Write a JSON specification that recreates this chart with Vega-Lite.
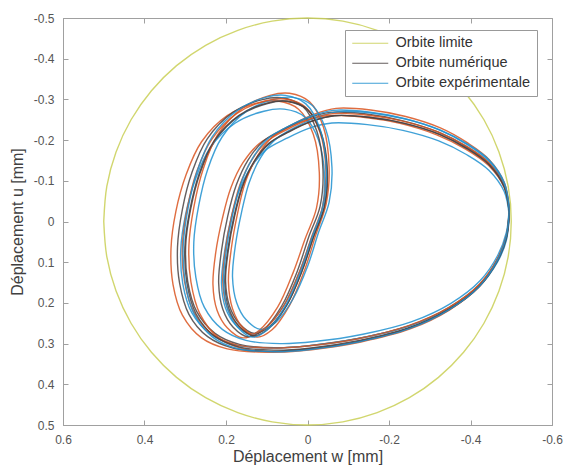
{
"$schema": "https://vega.github.io/schema/vega-lite/v6.json",
"width": 489, "height": 407,
"autosize": {"type": "none"},
"padding": {"left": 63, "top": 18, "right": 12, "bottom": 43},
"background": "white",
"config": {"font": "Liberation Sans", "view": {"stroke": "#a0a0a0", "strokeWidth": 1}},
"resolve": {"axis": {"x": "independent", "y": "independent"}},
"data": {"values": [
{"s":"L","c":0,"o":1,"x":0.5,"y":0},{"s":"L","c":0,"o":2,"x":0.4924,"y":0.0868},{"s":"L","c":0,"o":3,"x":0.4698,"y":0.171},{"s":"L","c":0,"o":4,"x":0.433,"y":0.25},{"s":"L","c":0,"o":5,"x":0.383,"y":0.3214},{"s":"L","c":0,"o":6,"x":0.3214,"y":0.383},{"s":"L","c":0,"o":7,"x":0.25,"y":0.433},{"s":"L","c":0,"o":8,"x":0.171,"y":0.4698},{"s":"L","c":0,"o":9,"x":0.0868,"y":0.4924},{"s":"L","c":0,"o":10,"x":0,"y":0.5},
{"s":"L","c":0,"o":11,"x":-0.0868,"y":0.4924},{"s":"L","c":0,"o":12,"x":-0.171,"y":0.4698},{"s":"L","c":0,"o":13,"x":-0.25,"y":0.433},{"s":"L","c":0,"o":14,"x":-0.3214,"y":0.383},{"s":"L","c":0,"o":15,"x":-0.383,"y":0.3214},{"s":"L","c":0,"o":16,"x":-0.433,"y":0.25},{"s":"L","c":0,"o":17,"x":-0.4698,"y":0.171},{"s":"L","c":0,"o":18,"x":-0.4924,"y":0.0868},{"s":"L","c":0,"o":19,"x":-0.5,"y":0},
{"s":"L","c":0,"o":20,"x":-0.4924,"y":-0.0868},{"s":"L","c":0,"o":21,"x":-0.4698,"y":-0.171},{"s":"L","c":0,"o":22,"x":-0.433,"y":-0.25},{"s":"L","c":0,"o":23,"x":-0.383,"y":-0.3214},{"s":"L","c":0,"o":24,"x":-0.3214,"y":-0.383},{"s":"L","c":0,"o":25,"x":-0.25,"y":-0.433},{"s":"L","c":0,"o":26,"x":-0.171,"y":-0.4698},{"s":"L","c":0,"o":27,"x":-0.0868,"y":-0.4924},{"s":"L","c":0,"o":28,"x":0,"y":-0.5},
{"s":"L","c":0,"o":29,"x":0.0868,"y":-0.4924},{"s":"L","c":0,"o":30,"x":0.171,"y":-0.4698},{"s":"L","c":0,"o":31,"x":0.25,"y":-0.433},{"s":"L","c":0,"o":32,"x":0.3214,"y":-0.383},{"s":"L","c":0,"o":33,"x":0.383,"y":-0.3214},{"s":"L","c":0,"o":34,"x":0.433,"y":-0.25},{"s":"L","c":0,"o":35,"x":0.4698,"y":-0.171},{"s":"L","c":0,"o":36,"x":0.4924,"y":-0.0868},{"s":"L","c":0,"o":37,"x":0.5,"y":0},

{"s":"R","c":1,"o":1,"x":-0.495,"y":-0.021},{"s":"R","c":1,"o":2,"x":-0.483,"y":-0.083},{"s":"R","c":1,"o":3,"x":-0.444,"y":-0.138},{"s":"R","c":1,"o":4,"x":-0.388,"y":-0.178},{"s":"R","c":1,"o":5,"x":-0.317,"y":-0.213},{"s":"R","c":1,"o":6,"x":-0.227,"y":-0.241},{"s":"R","c":1,"o":7,"x":-0.137,"y":-0.256},{"s":"R","c":1,"o":8,"x":-0.047,"y":-0.26},{"s":"R","c":1,"o":9,"x":0.012,"y":-0.246},{"s":"R","c":1,"o":10,"x":0.068,"y":-0.22},
{"s":"R","c":1,"o":11,"x":0.119,"y":-0.191},{"s":"R","c":1,"o":12,"x":0.158,"y":-0.145},{"s":"R","c":1,"o":13,"x":0.188,"y":-0.083},{"s":"R","c":1,"o":14,"x":0.209,"y":-0.007},{"s":"R","c":1,"o":15,"x":0.225,"y":0.075},{"s":"R","c":1,"o":16,"x":0.232,"y":0.155},{"s":"R","c":1,"o":17,"x":0.222,"y":0.218},{"s":"R","c":1,"o":18,"x":0.197,"y":0.261},{"s":"R","c":1,"o":19,"x":0.158,"y":0.286},{"s":"R","c":1,"o":20,"x":0.119,"y":0.268},
{"s":"R","c":1,"o":21,"x":0.073,"y":0.21},{"s":"R","c":1,"o":22,"x":0.035,"y":0.125},{"s":"R","c":1,"o":23,"x":0.006,"y":0.043},{"s":"R","c":1,"o":24,"x":-0.022,"y":-0.033},{"s":"R","c":1,"o":25,"x":-0.029,"y":-0.12},{"s":"R","c":1,"o":26,"x":-0.014,"y":-0.215},{"s":"R","c":1,"o":27,"x":0.022,"y":-0.276},{"s":"R","c":1,"o":28,"x":0.073,"y":-0.296},{"s":"R","c":1,"o":29,"x":0.125,"y":-0.291},{"s":"R","c":1,"o":30,"x":0.197,"y":-0.26},
{"s":"R","c":1,"o":31,"x":0.26,"y":-0.196},{"s":"R","c":1,"o":32,"x":0.298,"y":-0.115},{"s":"R","c":1,"o":33,"x":0.323,"y":-0.025},{"s":"R","c":1,"o":34,"x":0.335,"y":0.067},{"s":"R","c":1,"o":35,"x":0.33,"y":0.155},{"s":"R","c":1,"o":36,"x":0.307,"y":0.23},{"s":"R","c":1,"o":37,"x":0.26,"y":0.286},{"s":"R","c":1,"o":38,"x":0.197,"y":0.313},{"s":"R","c":1,"o":39,"x":0.107,"y":0.321},{"s":"R","c":1,"o":40,"x":0.017,"y":0.316},
{"s":"R","c":1,"o":41,"x":-0.111,"y":0.298},{"s":"R","c":1,"o":42,"x":-0.239,"y":0.266},{"s":"R","c":1,"o":43,"x":-0.342,"y":0.22},{"s":"R","c":1,"o":44,"x":-0.419,"y":0.163},{"s":"R","c":1,"o":45,"x":-0.465,"y":0.1},{"s":"R","c":1,"o":46,"x":-0.488,"y":0.043},{"s":"R","c":1,"o":47,"x":-0.495,"y":-0.021},

{"s":"N","c":2,"o":1,"x":-0.495,"y":-0.025},{"s":"N","c":2,"o":2,"x":-0.483,"y":-0.086},{"s":"N","c":2,"o":3,"x":-0.446,"y":-0.14},{"s":"N","c":2,"o":4,"x":-0.392,"y":-0.179},{"s":"N","c":2,"o":5,"x":-0.324,"y":-0.214},{"s":"N","c":2,"o":6,"x":-0.238,"y":-0.241},{"s":"N","c":2,"o":7,"x":-0.152,"y":-0.256},{"s":"N","c":2,"o":8,"x":-0.066,"y":-0.26},{"s":"N","c":2,"o":9,"x":-0.01,"y":-0.246},{"s":"N","c":2,"o":10,"x":0.044,"y":-0.221},
{"s":"N","c":2,"o":11,"x":0.093,"y":-0.192},{"s":"N","c":2,"o":12,"x":0.13,"y":-0.147},{"s":"N","c":2,"o":13,"x":0.159,"y":-0.086},{"s":"N","c":2,"o":14,"x":0.179,"y":-0.012},{"s":"N","c":2,"o":15,"x":0.194,"y":0.069},{"s":"N","c":2,"o":16,"x":0.201,"y":0.147},{"s":"N","c":2,"o":17,"x":0.191,"y":0.209},{"s":"N","c":2,"o":18,"x":0.167,"y":0.251},{"s":"N","c":2,"o":19,"x":0.13,"y":0.275},{"s":"N","c":2,"o":20,"x":0.093,"y":0.258},
{"s":"N","c":2,"o":21,"x":0.049,"y":0.201},{"s":"N","c":2,"o":22,"x":0.012,"y":0.118},{"s":"N","c":2,"o":23,"x":-0.015,"y":0.037},{"s":"N","c":2,"o":24,"x":-0.042,"y":-0.037},{"s":"N","c":2,"o":25,"x":-0.049,"y":-0.123},{"s":"N","c":2,"o":26,"x":-0.034,"y":-0.216},{"s":"N","c":2,"o":27,"x":0.0,"y":-0.275},{"s":"N","c":2,"o":28,"x":0.049,"y":-0.295},{"s":"N","c":2,"o":29,"x":0.098,"y":-0.29},{"s":"N","c":2,"o":30,"x":0.167,"y":-0.26},
{"s":"N","c":2,"o":31,"x":0.228,"y":-0.197},{"s":"N","c":2,"o":32,"x":0.264,"y":-0.118},{"s":"N","c":2,"o":33,"x":0.287,"y":-0.029},{"s":"N","c":2,"o":34,"x":0.299,"y":0.061},{"s":"N","c":2,"o":35,"x":0.294,"y":0.147},{"s":"N","c":2,"o":36,"x":0.272,"y":0.221},{"s":"N","c":2,"o":37,"x":0.227,"y":0.275},{"s":"N","c":2,"o":38,"x":0.167,"y":0.302},{"s":"N","c":2,"o":39,"x":0.081,"y":0.31},{"s":"N","c":2,"o":40,"x":-0.005,"y":0.305},
{"s":"N","c":2,"o":41,"x":-0.127,"y":0.287},{"s":"N","c":2,"o":42,"x":-0.25,"y":0.256},{"s":"N","c":2,"o":43,"x":-0.348,"y":0.211},{"s":"N","c":2,"o":44,"x":-0.422,"y":0.155},{"s":"N","c":2,"o":45,"x":-0.466,"y":0.093},{"s":"N","c":2,"o":46,"x":-0.488,"y":0.037},{"s":"N","c":2,"o":47,"x":-0.495,"y":-0.025},

{"s":"E","c":3,"o":1,"x":-0.495,"y":-0.014},{"s":"E","c":3,"o":2,"x":-0.483,"y":-0.073},{"s":"E","c":3,"o":3,"x":-0.445,"y":-0.126},{"s":"E","c":3,"o":4,"x":-0.391,"y":-0.164},{"s":"E","c":3,"o":5,"x":-0.322,"y":-0.198},{"s":"E","c":3,"o":6,"x":-0.234,"y":-0.224},{"s":"E","c":3,"o":7,"x":-0.147,"y":-0.238},{"s":"E","c":3,"o":8,"x":-0.06,"y":-0.242},{"s":"E","c":3,"o":9,"x":-0.003,"y":-0.229},{"s":"E","c":3,"o":10,"x":0.052,"y":-0.204},
{"s":"E","c":3,"o":11,"x":0.102,"y":-0.176},{"s":"E","c":3,"o":12,"x":0.139,"y":-0.133},{"s":"E","c":3,"o":13,"x":0.169,"y":-0.073},{"s":"E","c":3,"o":14,"x":0.189,"y":-0.002},{"s":"E","c":3,"o":15,"x":0.204,"y":0.077},{"s":"E","c":3,"o":16,"x":0.211,"y":0.153},{"s":"E","c":3,"o":17,"x":0.201,"y":0.213},{"s":"E","c":3,"o":18,"x":0.177,"y":0.253},{"s":"E","c":3,"o":19,"x":0.139,"y":0.277},{"s":"E","c":3,"o":20,"x":0.102,"y":0.26},
{"s":"E","c":3,"o":21,"x":0.057,"y":0.205},{"s":"E","c":3,"o":22,"x":0.02,"y":0.124},{"s":"E","c":3,"o":23,"x":-0.008,"y":0.046},{"s":"E","c":3,"o":24,"x":-0.035,"y":-0.026},{"s":"E","c":3,"o":25,"x":-0.042,"y":-0.109},{"s":"E","c":3,"o":26,"x":-0.027,"y":-0.2},{"s":"E","c":3,"o":27,"x":0.007,"y":-0.257},{"s":"E","c":3,"o":28,"x":0.057,"y":-0.276},{"s":"E","c":3,"o":29,"x":0.107,"y":-0.271},{"s":"E","c":3,"o":30,"x":0.177,"y":-0.242},
{"s":"E","c":3,"o":31,"x":0.239,"y":-0.181},{"s":"E","c":3,"o":32,"x":0.275,"y":-0.104},{"s":"E","c":3,"o":33,"x":0.299,"y":-0.018},{"s":"E","c":3,"o":34,"x":0.311,"y":0.069},{"s":"E","c":3,"o":35,"x":0.306,"y":0.153},{"s":"E","c":3,"o":36,"x":0.284,"y":0.224},{"s":"E","c":3,"o":37,"x":0.238,"y":0.277},{"s":"E","c":3,"o":38,"x":0.177,"y":0.303},{"s":"E","c":3,"o":39,"x":0.09,"y":0.311},{"s":"E","c":3,"o":40,"x":0.002,"y":0.306},
{"s":"E","c":3,"o":41,"x":-0.122,"y":0.288},{"s":"E","c":3,"o":42,"x":-0.246,"y":0.258},{"s":"E","c":3,"o":43,"x":-0.346,"y":0.215},{"s":"E","c":3,"o":44,"x":-0.421,"y":0.16},{"s":"E","c":3,"o":45,"x":-0.466,"y":0.1},{"s":"E","c":3,"o":46,"x":-0.488,"y":0.046},{"s":"E","c":3,"o":47,"x":-0.495,"y":-0.014},

{"s":"R","c":4,"o":1,"x":-0.495,"y":-0.031},{"s":"R","c":4,"o":2,"x":-0.483,"y":-0.095},{"s":"R","c":4,"o":3,"x":-0.446,"y":-0.152},{"s":"R","c":4,"o":4,"x":-0.393,"y":-0.193},{"s":"R","c":4,"o":5,"x":-0.326,"y":-0.23},{"s":"R","c":4,"o":6,"x":-0.241,"y":-0.258},{"s":"R","c":4,"o":7,"x":-0.155,"y":-0.274},{"s":"R","c":4,"o":8,"x":-0.07,"y":-0.278},{"s":"R","c":4,"o":9,"x":-0.015,"y":-0.263},{"s":"R","c":4,"o":10,"x":0.039,"y":-0.237},
{"s":"R","c":4,"o":11,"x":0.087,"y":-0.207},{"s":"R","c":4,"o":12,"x":0.124,"y":-0.159},{"s":"R","c":4,"o":13,"x":0.153,"y":-0.095},{"s":"R","c":4,"o":14,"x":0.172,"y":-0.018},{"s":"R","c":4,"o":15,"x":0.187,"y":0.067},{"s":"R","c":4,"o":16,"x":0.194,"y":0.149},{"s":"R","c":4,"o":17,"x":0.184,"y":0.214},{"s":"R","c":4,"o":18,"x":0.16,"y":0.259},{"s":"R","c":4,"o":19,"x":0.124,"y":0.284},{"s":"R","c":4,"o":20,"x":0.087,"y":0.266},
{"s":"R","c":4,"o":21,"x":0.044,"y":0.206},{"s":"R","c":4,"o":22,"x":0.007,"y":0.119},{"s":"R","c":4,"o":23,"x":-0.02,"y":0.034},{"s":"R","c":4,"o":24,"x":-0.046,"y":-0.044},{"s":"R","c":4,"o":25,"x":-0.053,"y":-0.134},{"s":"R","c":4,"o":26,"x":-0.039,"y":-0.232},{"s":"R","c":4,"o":27,"x":-0.005,"y":-0.294},{"s":"R","c":4,"o":28,"x":0.044,"y":-0.315},{"s":"R","c":4,"o":29,"x":0.092,"y":-0.31},{"s":"R","c":4,"o":30,"x":0.16,"y":-0.278},
{"s":"R","c":4,"o":31,"x":0.221,"y":-0.212},{"s":"R","c":4,"o":32,"x":0.256,"y":-0.129},{"s":"R","c":4,"o":33,"x":0.279,"y":-0.035},{"s":"R","c":4,"o":34,"x":0.291,"y":0.059},{"s":"R","c":4,"o":35,"x":0.286,"y":0.149},{"s":"R","c":4,"o":36,"x":0.264,"y":0.227},{"s":"R","c":4,"o":37,"x":0.22,"y":0.284},{"s":"R","c":4,"o":38,"x":0.16,"y":0.312},{"s":"R","c":4,"o":39,"x":0.075,"y":0.321},{"s":"R","c":4,"o":40,"x":-0.01,"y":0.315},
{"s":"R","c":4,"o":41,"x":-0.131,"y":0.296},{"s":"R","c":4,"o":42,"x":-0.252,"y":0.264},{"s":"R","c":4,"o":43,"x":-0.349,"y":0.217},{"s":"R","c":4,"o":44,"x":-0.423,"y":0.158},{"s":"R","c":4,"o":45,"x":-0.466,"y":0.093},{"s":"R","c":4,"o":46,"x":-0.488,"y":0.034},{"s":"R","c":4,"o":47,"x":-0.495,"y":-0.031},

{"s":"N","c":5,"o":1,"x":-0.495,"y":-0.026},{"s":"N","c":5,"o":2,"x":-0.483,"y":-0.089},{"s":"N","c":5,"o":3,"x":-0.445,"y":-0.144},{"s":"N","c":5,"o":4,"x":-0.39,"y":-0.184},{"s":"N","c":5,"o":5,"x":-0.32,"y":-0.22},{"s":"N","c":5,"o":6,"x":-0.232,"y":-0.248},{"s":"N","c":5,"o":7,"x":-0.144,"y":-0.264},{"s":"N","c":5,"o":8,"x":-0.055,"y":-0.268},{"s":"N","c":5,"o":9,"x":0.002,"y":-0.253},{"s":"N","c":5,"o":10,"x":0.057,"y":-0.228},
{"s":"N","c":5,"o":11,"x":0.108,"y":-0.198},{"s":"N","c":5,"o":12,"x":0.146,"y":-0.151},{"s":"N","c":5,"o":13,"x":0.175,"y":-0.089},{"s":"N","c":5,"o":14,"x":0.196,"y":-0.012},{"s":"N","c":5,"o":15,"x":0.211,"y":0.071},{"s":"N","c":5,"o":16,"x":0.218,"y":0.151},{"s":"N","c":5,"o":17,"x":0.208,"y":0.215},{"s":"N","c":5,"o":18,"x":0.183,"y":0.259},{"s":"N","c":5,"o":19,"x":0.146,"y":0.283},{"s":"N","c":5,"o":20,"x":0.108,"y":0.266},
{"s":"N","c":5,"o":21,"x":0.063,"y":0.207},{"s":"N","c":5,"o":22,"x":0.025,"y":0.122},{"s":"N","c":5,"o":23,"x":-0.003,"y":0.038},{"s":"N","c":5,"o":24,"x":-0.031,"y":-0.038},{"s":"N","c":5,"o":25,"x":-0.038,"y":-0.127},{"s":"N","c":5,"o":26,"x":-0.023,"y":-0.222},{"s":"N","c":5,"o":27,"x":0.012,"y":-0.283},{"s":"N","c":5,"o":28,"x":0.063,"y":-0.304},{"s":"N","c":5,"o":29,"x":0.113,"y":-0.299},{"s":"N","c":5,"o":30,"x":0.183,"y":-0.268},
{"s":"N","c":5,"o":31,"x":0.246,"y":-0.203},{"s":"N","c":5,"o":32,"x":0.283,"y":-0.122},{"s":"N","c":5,"o":33,"x":0.307,"y":-0.03},{"s":"N","c":5,"o":34,"x":0.319,"y":0.063},{"s":"N","c":5,"o":35,"x":0.314,"y":0.151},{"s":"N","c":5,"o":36,"x":0.291,"y":0.228},{"s":"N","c":5,"o":37,"x":0.245,"y":0.283},{"s":"N","c":5,"o":38,"x":0.183,"y":0.311},{"s":"N","c":5,"o":39,"x":0.095,"y":0.319},{"s":"N","c":5,"o":40,"x":0.007,"y":0.314},
{"s":"N","c":5,"o":41,"x":-0.118,"y":0.296},{"s":"N","c":5,"o":42,"x":-0.244,"y":0.264},{"s":"N","c":5,"o":43,"x":-0.344,"y":0.217},{"s":"N","c":5,"o":44,"x":-0.42,"y":0.16},{"s":"N","c":5,"o":45,"x":-0.465,"y":0.096},{"s":"N","c":5,"o":46,"x":-0.488,"y":0.038},{"s":"N","c":5,"o":47,"x":-0.495,"y":-0.026},

{"s":"E","c":6,"o":1,"x":-0.495,"y":-0.035},{"s":"E","c":6,"o":2,"x":-0.483,"y":-0.096},{"s":"E","c":6,"o":3,"x":-0.447,"y":-0.15},{"s":"E","c":6,"o":4,"x":-0.395,"y":-0.189},{"s":"E","c":6,"o":5,"x":-0.328,"y":-0.224},{"s":"E","c":6,"o":6,"x":-0.244,"y":-0.251},{"s":"E","c":6,"o":7,"x":-0.161,"y":-0.266},{"s":"E","c":6,"o":8,"x":-0.077,"y":-0.27},{"s":"E","c":6,"o":9,"x":-0.022,"y":-0.256},{"s":"E","c":6,"o":10,"x":0.031,"y":-0.231},
{"s":"E","c":6,"o":11,"x":0.078,"y":-0.202},{"s":"E","c":6,"o":12,"x":0.115,"y":-0.157},{"s":"E","c":6,"o":13,"x":0.143,"y":-0.096},{"s":"E","c":6,"o":14,"x":0.162,"y":-0.022},{"s":"E","c":6,"o":15,"x":0.177,"y":0.059},{"s":"E","c":6,"o":16,"x":0.184,"y":0.137},{"s":"E","c":6,"o":17,"x":0.174,"y":0.199},{"s":"E","c":6,"o":18,"x":0.151,"y":0.241},{"s":"E","c":6,"o":19,"x":0.115,"y":0.265},{"s":"E","c":6,"o":20,"x":0.078,"y":0.248},
{"s":"E","c":6,"o":21,"x":0.036,"y":0.191},{"s":"E","c":6,"o":22,"x":-0.001,"y":0.108},{"s":"E","c":6,"o":23,"x":-0.027,"y":0.027},{"s":"E","c":6,"o":24,"x":-0.053,"y":-0.047},{"s":"E","c":6,"o":25,"x":-0.06,"y":-0.133},{"s":"E","c":6,"o":26,"x":-0.045,"y":-0.226},{"s":"E","c":6,"o":27,"x":-0.012,"y":-0.285},{"s":"E","c":6,"o":28,"x":0.036,"y":-0.305},{"s":"E","c":6,"o":29,"x":0.083,"y":-0.3},{"s":"E","c":6,"o":30,"x":0.151,"y":-0.27},
{"s":"E","c":6,"o":31,"x":0.21,"y":-0.207},{"s":"E","c":6,"o":32,"x":0.245,"y":-0.128},{"s":"E","c":6,"o":33,"x":0.267,"y":-0.039},{"s":"E","c":6,"o":34,"x":0.279,"y":0.051},{"s":"E","c":6,"o":35,"x":0.274,"y":0.137},{"s":"E","c":6,"o":36,"x":0.253,"y":0.211},{"s":"E","c":6,"o":37,"x":0.209,"y":0.265},{"s":"E","c":6,"o":38,"x":0.151,"y":0.292},{"s":"E","c":6,"o":39,"x":0.067,"y":0.3},{"s":"E","c":6,"o":40,"x":-0.017,"y":0.295},
{"s":"E","c":6,"o":41,"x":-0.136,"y":0.277},{"s":"E","c":6,"o":42,"x":-0.256,"y":0.246},{"s":"E","c":6,"o":43,"x":-0.352,"y":0.201},{"s":"E","c":6,"o":44,"x":-0.424,"y":0.145},{"s":"E","c":6,"o":45,"x":-0.467,"y":0.083},{"s":"E","c":6,"o":46,"x":-0.488,"y":0.027},{"s":"E","c":6,"o":47,"x":-0.495,"y":-0.035},

{"s":"R","c":7,"o":1,"x":-0.495,"y":-0.028},{"s":"R","c":7,"o":2,"x":-0.483,"y":-0.09},{"s":"R","c":7,"o":3,"x":-0.446,"y":-0.144},{"s":"R","c":7,"o":4,"x":-0.392,"y":-0.184},{"s":"R","c":7,"o":5,"x":-0.323,"y":-0.219},{"s":"R","c":7,"o":6,"x":-0.236,"y":-0.246},{"s":"R","c":7,"o":7,"x":-0.149,"y":-0.261},{"s":"R","c":7,"o":8,"x":-0.062,"y":-0.265},{"s":"R","c":7,"o":9,"x":-0.005,"y":-0.251},{"s":"R","c":7,"o":10,"x":0.05,"y":-0.226},
{"s":"R","c":7,"o":11,"x":0.099,"y":-0.197},{"s":"R","c":7,"o":12,"x":0.137,"y":-0.151},{"s":"R","c":7,"o":13,"x":0.166,"y":-0.09},{"s":"R","c":7,"o":14,"x":0.186,"y":-0.015},{"s":"R","c":7,"o":15,"x":0.201,"y":0.067},{"s":"R","c":7,"o":16,"x":0.208,"y":0.146},{"s":"R","c":7,"o":17,"x":0.198,"y":0.209},{"s":"R","c":7,"o":18,"x":0.174,"y":0.251},{"s":"R","c":7,"o":19,"x":0.137,"y":0.276},{"s":"R","c":7,"o":20,"x":0.099,"y":0.258},
{"s":"R","c":7,"o":21,"x":0.055,"y":0.201},{"s":"R","c":7,"o":22,"x":0.017,"y":0.117},{"s":"R","c":7,"o":23,"x":-0.011,"y":0.035},{"s":"R","c":7,"o":24,"x":-0.038,"y":-0.04},{"s":"R","c":7,"o":25,"x":-0.045,"y":-0.127},{"s":"R","c":7,"o":26,"x":-0.03,"y":-0.221},{"s":"R","c":7,"o":27,"x":0.005,"y":-0.281},{"s":"R","c":7,"o":28,"x":0.055,"y":-0.301},{"s":"R","c":7,"o":29,"x":0.104,"y":-0.296},{"s":"R","c":7,"o":30,"x":0.174,"y":-0.265},
{"s":"R","c":7,"o":31,"x":0.235,"y":-0.202},{"s":"R","c":7,"o":32,"x":0.272,"y":-0.122},{"s":"R","c":7,"o":33,"x":0.295,"y":-0.032},{"s":"R","c":7,"o":34,"x":0.307,"y":0.059},{"s":"R","c":7,"o":35,"x":0.302,"y":0.146},{"s":"R","c":7,"o":36,"x":0.28,"y":0.221},{"s":"R","c":7,"o":37,"x":0.235,"y":0.276},{"s":"R","c":7,"o":38,"x":0.174,"y":0.303},{"s":"R","c":7,"o":39,"x":0.087,"y":0.311},{"s":"R","c":7,"o":40,"x":0.0,"y":0.306},
{"s":"R","c":7,"o":41,"x":-0.124,"y":0.288},{"s":"R","c":7,"o":42,"x":-0.248,"y":0.256},{"s":"R","c":7,"o":43,"x":-0.347,"y":0.211},{"s":"R","c":7,"o":44,"x":-0.422,"y":0.154},{"s":"R","c":7,"o":45,"x":-0.466,"y":0.092},{"s":"R","c":7,"o":46,"x":-0.488,"y":0.035},{"s":"R","c":7,"o":47,"x":-0.495,"y":-0.028},

{"s":"N","c":8,"o":1,"x":-0.495,"y":-0.023},{"s":"N","c":8,"o":2,"x":-0.483,"y":-0.084},{"s":"N","c":8,"o":3,"x":-0.446,"y":-0.139},{"s":"N","c":8,"o":4,"x":-0.392,"y":-0.179},{"s":"N","c":8,"o":5,"x":-0.324,"y":-0.214},{"s":"N","c":8,"o":6,"x":-0.238,"y":-0.241},{"s":"N","c":8,"o":7,"x":-0.151,"y":-0.256},{"s":"N","c":8,"o":8,"x":-0.065,"y":-0.26},{"s":"N","c":8,"o":9,"x":-0.009,"y":-0.246},{"s":"N","c":8,"o":10,"x":0.046,"y":-0.221},
{"s":"N","c":8,"o":11,"x":0.095,"y":-0.192},{"s":"N","c":8,"o":12,"x":0.132,"y":-0.146},{"s":"N","c":8,"o":13,"x":0.161,"y":-0.084},{"s":"N","c":8,"o":14,"x":0.181,"y":-0.01},{"s":"N","c":8,"o":15,"x":0.196,"y":0.072},{"s":"N","c":8,"o":16,"x":0.203,"y":0.151},{"s":"N","c":8,"o":17,"x":0.193,"y":0.214},{"s":"N","c":8,"o":18,"x":0.169,"y":0.256},{"s":"N","c":8,"o":19,"x":0.132,"y":0.281},{"s":"N","c":8,"o":20,"x":0.095,"y":0.263},
{"s":"N","c":8,"o":21,"x":0.051,"y":0.206},{"s":"N","c":8,"o":22,"x":0.014,"y":0.122},{"s":"N","c":8,"o":23,"x":-0.014,"y":0.04},{"s":"N","c":8,"o":24,"x":-0.041,"y":-0.035},{"s":"N","c":8,"o":25,"x":-0.048,"y":-0.122},{"s":"N","c":8,"o":26,"x":-0.033,"y":-0.216},{"s":"N","c":8,"o":27,"x":0.001,"y":-0.276},{"s":"N","c":8,"o":28,"x":0.051,"y":-0.296},{"s":"N","c":8,"o":29,"x":0.1,"y":-0.291},{"s":"N","c":8,"o":30,"x":0.169,"y":-0.26},
{"s":"N","c":8,"o":31,"x":0.23,"y":-0.197},{"s":"N","c":8,"o":32,"x":0.266,"y":-0.117},{"s":"N","c":8,"o":33,"x":0.289,"y":-0.027},{"s":"N","c":8,"o":34,"x":0.301,"y":0.064},{"s":"N","c":8,"o":35,"x":0.296,"y":0.151},{"s":"N","c":8,"o":36,"x":0.274,"y":0.226},{"s":"N","c":8,"o":37,"x":0.229,"y":0.281},{"s":"N","c":8,"o":38,"x":0.169,"y":0.308},{"s":"N","c":8,"o":39,"x":0.083,"y":0.316},{"s":"N","c":8,"o":40,"x":-0.004,"y":0.311},
{"s":"N","c":8,"o":41,"x":-0.127,"y":0.292},{"s":"N","c":8,"o":42,"x":-0.249,"y":0.261},{"s":"N","c":8,"o":43,"x":-0.348,"y":0.216},{"s":"N","c":8,"o":44,"x":-0.422,"y":0.159},{"s":"N","c":8,"o":45,"x":-0.466,"y":0.097},{"s":"N","c":8,"o":46,"x":-0.488,"y":0.04},{"s":"N","c":8,"o":47,"x":-0.495,"y":-0.023},

{"s":"E","c":9,"o":1,"x":-0.495,"y":-0.029},{"s":"E","c":9,"o":2,"x":-0.483,"y":-0.092},{"s":"E","c":9,"o":3,"x":-0.446,"y":-0.148},{"s":"E","c":9,"o":4,"x":-0.392,"y":-0.189},{"s":"E","c":9,"o":5,"x":-0.323,"y":-0.225},{"s":"E","c":9,"o":6,"x":-0.237,"y":-0.253},{"s":"E","c":9,"o":7,"x":-0.15,"y":-0.269},{"s":"E","c":9,"o":8,"x":-0.063,"y":-0.273},{"s":"E","c":9,"o":9,"x":-0.007,"y":-0.258},{"s":"E","c":9,"o":10,"x":0.048,"y":-0.233},
{"s":"E","c":9,"o":11,"x":0.098,"y":-0.203},{"s":"E","c":9,"o":12,"x":0.135,"y":-0.155},{"s":"E","c":9,"o":13,"x":0.164,"y":-0.092},{"s":"E","c":9,"o":14,"x":0.184,"y":-0.015},{"s":"E","c":9,"o":15,"x":0.199,"y":0.069},{"s":"E","c":9,"o":16,"x":0.206,"y":0.15},{"s":"E","c":9,"o":17,"x":0.196,"y":0.215},{"s":"E","c":9,"o":18,"x":0.172,"y":0.259},{"s":"E","c":9,"o":19,"x":0.135,"y":0.284},{"s":"E","c":9,"o":20,"x":0.098,"y":0.266},
{"s":"E","c":9,"o":21,"x":0.054,"y":0.207},{"s":"E","c":9,"o":22,"x":0.016,"y":0.121},{"s":"E","c":9,"o":23,"x":-0.012,"y":0.036},{"s":"E","c":9,"o":24,"x":-0.039,"y":-0.041},{"s":"E","c":9,"o":25,"x":-0.046,"y":-0.131},{"s":"E","c":9,"o":26,"x":-0.031,"y":-0.227},{"s":"E","c":9,"o":27,"x":0.004,"y":-0.289},{"s":"E","c":9,"o":28,"x":0.054,"y":-0.31},{"s":"E","c":9,"o":29,"x":0.103,"y":-0.305},{"s":"E","c":9,"o":30,"x":0.172,"y":-0.273},
{"s":"E","c":9,"o":31,"x":0.234,"y":-0.208},{"s":"E","c":9,"o":32,"x":0.27,"y":-0.126},{"s":"E","c":9,"o":33,"x":0.293,"y":-0.033},{"s":"E","c":9,"o":34,"x":0.305,"y":0.061},{"s":"E","c":9,"o":35,"x":0.3,"y":0.15},{"s":"E","c":9,"o":36,"x":0.278,"y":0.228},{"s":"E","c":9,"o":37,"x":0.233,"y":0.284},{"s":"E","c":9,"o":38,"x":0.172,"y":0.312},{"s":"E","c":9,"o":39,"x":0.085,"y":0.32},{"s":"E","c":9,"o":40,"x":-0.002,"y":0.315},
{"s":"E","c":9,"o":41,"x":-0.125,"y":0.296},{"s":"E","c":9,"o":42,"x":-0.248,"y":0.264},{"s":"E","c":9,"o":43,"x":-0.347,"y":0.217},{"s":"E","c":9,"o":44,"x":-0.422,"y":0.159},{"s":"E","c":9,"o":45,"x":-0.466,"y":0.095},{"s":"E","c":9,"o":46,"x":-0.488,"y":0.036},{"s":"E","c":9,"o":47,"x":-0.495,"y":-0.029}
]},
"layer": [
{
"mark": {"type": "line", "strokeWidth": 1.4, "opacity": 0.85, "interpolate": "catmull-rom"},
"encoding": {
"x": {"field": "x", "type": "quantitative",
"scale": {"domain": [-0.6, 0.6], "reverse": true, "nice": false, "zero": false},
"axis": {"orient": "bottom", "title": "Déplacement w [mm]", "values": [-0.6, -0.4, -0.2, 0, 0.2, 0.4, 0.6],
"labelExpr": "replace(format(datum.value, '~g'), '−', '-')",
"grid": false, "tickSize": -5, "labelPadding": 14, "labelFlush": false, "labelOverlap": false,
"domainColor": "#a0a0a0", "tickColor": "#a0a0a0", "labelColor": "#555555", "labelFontSize": 12,
"titleFontSize": 16, "titleFontWeight": "normal", "titleColor": "#404040", "titlePadding": 3}},
"y": {"field": "y", "type": "quantitative",
"scale": {"domain": [-0.5, 0.5], "reverse": true, "nice": false, "zero": false},
"axis": {"orient": "left", "title": "Déplacement u [mm]", "values": [-0.5, -0.4, -0.3, -0.2, -0.1, 0, 0.1, 0.2, 0.3, 0.4, 0.5],
"labelExpr": "replace(format(datum.value, '~g'), '−', '-')",
"grid": false, "tickSize": -5, "labelPadding": 14, "labelFlush": false, "labelOverlap": false,
"domainColor": "#a0a0a0", "tickColor": "#a0a0a0", "labelColor": "#555555", "labelFontSize": 12,
"titleFontSize": 16, "titleFontWeight": "normal", "titleColor": "#404040", "titlePadding": 8}},
"color": {"field": "s", "type": "nominal",
"scale": {"domain": ["L", "N", "E", "R"], "range": ["#c9cf55", "#4a4242", "#1e90d0", "#d9531e"]},
"legend": {"title": null, "orient": "none", "legendX": 282, "legendY": 12, "values": ["L", "N", "E"],
"labelExpr": "datum.value == 'L' ? 'Orbite limite' : datum.value == 'N' ? 'Orbite numérique' : 'Orbite expérimentale'",
"symbolType": "M-1,0H5", "symbolSize": 144, "symbolStrokeWidth": 1, "labelOffset": 30,
"labelFontSize": 14.5, "labelColor": "#333333", "rowPadding": 5, "padding": 6,
"strokeColor": "#999999", "fillColor": "#ffffff"}},
"detail": {"field": "c", "type": "nominal"},
"order": {"field": "o", "type": "quantitative"}
}
},
{
"transform": [{"filter": "datum.c == 0 && datum.o == 1"}],
"mark": {"type": "point", "opacity": 0},
"encoding": {
"x": {"field": "x", "type": "quantitative",
"axis": {"orient": "top", "title": null, "labels": false, "domain": false, "grid": false, "tickSize": -5, "tickColor": "#a0a0a0", "values": [-0.6, -0.4, -0.2, 0, 0.2, 0.4, 0.6]}},
"y": {"field": "y", "type": "quantitative",
"axis": {"orient": "right", "title": null, "labels": false, "domain": false, "grid": false, "tickSize": -5, "tickColor": "#a0a0a0", "values": [-0.5, -0.4, -0.3, -0.2, -0.1, 0, 0.1, 0.2, 0.3, 0.4, 0.5]}}
}
}
]
}
